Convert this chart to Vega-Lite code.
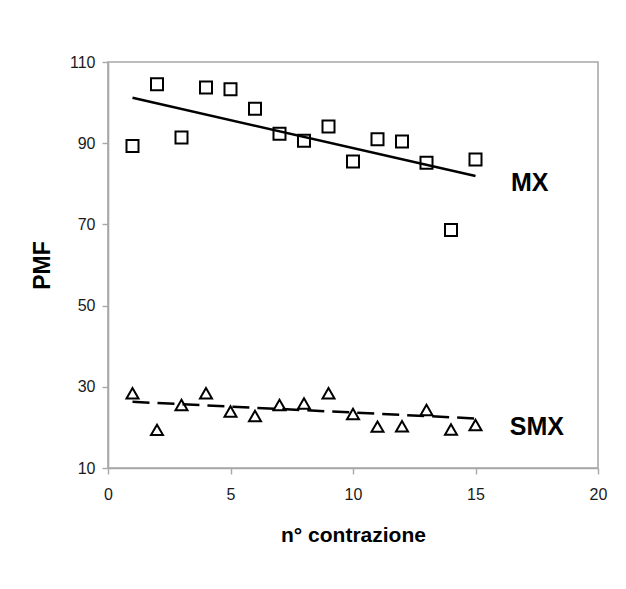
{
  "$schema": "https://vega.github.io/schema/vega-lite/v6.json",
  "width": 490,
  "height": 406,
  "autosize": {"type": "none"},
  "padding": {"left": 108, "top": 62, "right": 28, "bottom": 121},
  "background": "white",
  "config": {
    "font": "Liberation Sans",
    "view": {"stroke": "#a8a8a8", "strokeWidth": 1.6},
    "axis": {
      "grid": false,
      "domainColor": "#a8a8a8",
      "domainWidth": 1.6,
      "tickColor": "#a8a8a8",
      "tickWidth": 1.4,
      "tickSize": 6,
      "labelFlush": false,
      "labelFont": "Liberation Sans",
      "labelFontSize": 16,
      "labelColor": "#1a1a1a",
      "titleFont": "Liberation Sans",
      "titleFontSize": 21,
      "titleFontWeight": "bold",
      "titleColor": "#000000"
    }
  },
  "datasets": {
    "points": [
      {"serie": "MX", "n": 1, "pmf": 89.3},
      {"serie": "MX", "n": 2, "pmf": 104.5},
      {"serie": "MX", "n": 3, "pmf": 91.4},
      {"serie": "MX", "n": 4, "pmf": 103.7},
      {"serie": "MX", "n": 5, "pmf": 103.3},
      {"serie": "MX", "n": 6, "pmf": 98.5},
      {"serie": "MX", "n": 7, "pmf": 92.3},
      {"serie": "MX", "n": 8, "pmf": 90.6},
      {"serie": "MX", "n": 9, "pmf": 94.1},
      {"serie": "MX", "n": 10, "pmf": 85.5},
      {"serie": "MX", "n": 11, "pmf": 91.0},
      {"serie": "MX", "n": 12, "pmf": 90.4},
      {"serie": "MX", "n": 13, "pmf": 85.2},
      {"serie": "MX", "n": 14, "pmf": 68.6},
      {"serie": "MX", "n": 15, "pmf": 86.0},
      {"serie": "SMX", "n": 1, "pmf": 28.4},
      {"serie": "SMX", "n": 2, "pmf": 19.4},
      {"serie": "SMX", "n": 3, "pmf": 25.5},
      {"serie": "SMX", "n": 4, "pmf": 28.4},
      {"serie": "SMX", "n": 5, "pmf": 23.9},
      {"serie": "SMX", "n": 6, "pmf": 22.8},
      {"serie": "SMX", "n": 7, "pmf": 25.5},
      {"serie": "SMX", "n": 8, "pmf": 25.9},
      {"serie": "SMX", "n": 9, "pmf": 28.4},
      {"serie": "SMX", "n": 10, "pmf": 23.3},
      {"serie": "SMX", "n": 11, "pmf": 20.2},
      {"serie": "SMX", "n": 12, "pmf": 20.3},
      {"serie": "SMX", "n": 13, "pmf": 24.3},
      {"serie": "SMX", "n": 14, "pmf": 19.5},
      {"serie": "SMX", "n": 15, "pmf": 20.6}
    ],
    "trends": [
      {"serie": "MX", "n": 1, "pmf": 101.2},
      {"serie": "MX", "n": 15, "pmf": 81.9},
      {"serie": "SMX", "n": 1, "pmf": 26.3},
      {"serie": "SMX", "n": 15, "pmf": 22.2}
    ],
    "labels": [
      {"label": "MX", "n": 16.45, "pmf": 80.3},
      {"label": "SMX", "n": 16.4, "pmf": 20.2}
    ]
  },
  "layer": [
    {
      "data": {"name": "trends"},
      "transform": [{"filter": "datum.serie === 'MX'"}],
      "mark": {"type": "line", "color": "#000000", "strokeWidth": 2.5},
      "encoding": {
        "x": {"field": "n", "type": "quantitative", "scale": {"domain": [0, 20]},
          "axis": {"values": [0, 5, 10, 15, 20], "title": "n° contrazione", "labelPadding": 12, "titlePadding": 22}},
        "y": {"field": "pmf", "type": "quantitative", "scale": {"domain": [10, 110]},
          "axis": {"values": [10, 30, 50, 70, 90, 110], "title": "PMF", "titleFontSize": 23, "labelPadding": 7, "titlePadding": 15}}
      }
    },
    {
      "data": {"name": "trends"},
      "transform": [{"filter": "datum.serie === 'SMX'"}],
      "mark": {"type": "line", "color": "#000000", "strokeWidth": 2.5, "strokeDash": [17, 8]},
      "encoding": {
        "x": {"field": "n", "type": "quantitative"},
        "y": {"field": "pmf", "type": "quantitative"}
      }
    },
    {
      "data": {"name": "points"},
      "mark": {"type": "point", "filled": false, "color": "#000000", "strokeWidth": 2, "size": 144, "opacity": 1},
      "encoding": {
        "x": {"field": "n", "type": "quantitative"},
        "y": {"field": "pmf", "type": "quantitative"},
        "shape": {"field": "serie", "type": "nominal",
          "scale": {"domain": ["MX", "SMX"], "range": ["square", "triangle-up"]}, "legend": null}
      }
    },
    {
      "data": {"name": "labels"},
      "mark": {"type": "text", "align": "left", "baseline": "middle", "fontWeight": "bold", "fontSize": 25, "font": "Liberation Sans", "color": "#000000"},
      "encoding": {
        "x": {"field": "n", "type": "quantitative"},
        "y": {"field": "pmf", "type": "quantitative"},
        "text": {"field": "label"}
      }
    }
  ]
}
